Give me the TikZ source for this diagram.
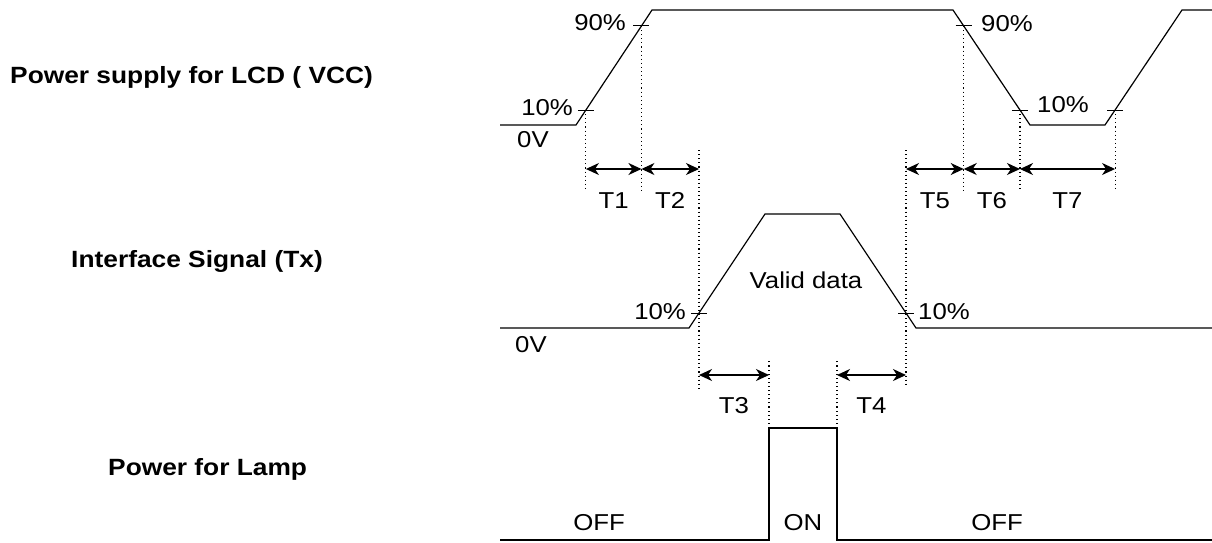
\documentclass[tikz,border=0pt]{standalone}
\usepackage{fontspec}
\setmainfont{Liberation Sans}[FakeStretch=1.12]
\usetikzlibrary{arrows.meta,calc}
\begin{document}
\begin{tikzpicture}[x=1pt,y=-1pt,
  wave/.style={line width=1.2pt, line join=miter},
  dots/.style={line width=1.1pt, dash pattern=on 1.1pt off 3pt},
  span/.style={line width=1.2pt, {Stealth[length=13pt,width=12pt,inset=4pt]}-{Stealth[length=13pt,width=12pt,inset=4pt]}},
  tick/.style={line width=1pt},
  lbl/.style={font=\fontsize{23}{27}\selectfont, inner sep=0pt},
  title/.style={font=\fontsize{23.5}{28}\selectfont\bfseries, inner sep=0pt}]
\useasboundingbox (0,0) rectangle (1212,542);

% reference rows
\coordinate (ra) at (0,169);
\coordinate (rb) at (0,375);
\coordinate (ta) at (0,208);
\coordinate (tb) at (0,413);

% ---------- VCC ----------
\coordinate (v0) at (500,125);
\coordinate (v1) at (576,125);
\coordinate (v2) at (652,10);
\coordinate (v3) at (953,10);
\coordinate (v4) at (1030,125);
\coordinate (v5) at (1105,125);
\coordinate (v6) at (1182,10);
\coordinate (v7) at (1212,10);
\draw[wave] (v0) -- (v1) -- (v2) -- (v3) -- (v4) -- (v5) -- (v6) -- (v7);
\coordinate (a10) at ($(v1)!0.1304!(v2)$);
\coordinate (a90) at ($(v1)!0.861!(v2)$);
\coordinate (b90) at ($(v4)!0.861!(v3)$);
\coordinate (b10) at ($(v4)!0.1304!(v3)$);
\coordinate (c10) at ($(v5)!0.1304!(v6)$);
\foreach \p in {a10,a90,b90,b10,c10}
  \draw[tick] ([xshift=-8pt]\p) -- ([xshift=8pt]\p);

% ---------- Tx ----------
\coordinate (t0) at (500,328);
\coordinate (t1) at (689,328);
\coordinate (t2) at (765,214);
\coordinate (t3) at (840,214);
\coordinate (t4) at (916,328);
\coordinate (t5) at (1212,328);
\draw[wave] (t0) -- (t1) -- (t2) -- (t3) -- (t4) -- (t5);
\coordinate (d10) at ($(t1)!0.1316!(t2)$);
\coordinate (e10) at ($(t4)!0.1316!(t3)$);
\foreach \p in {d10,e10}
  \draw[tick] ([xshift=-8pt]\p) -- ([xshift=8pt]\p);

% ---------- Lamp ----------
\coordinate (l0) at (500,540);
\coordinate (l1) at (769,540);
\coordinate (l2) at (769,428);
\coordinate (l3) at (837,428);
\coordinate (l4) at (837,540);
\coordinate (l5) at (1212,540);
\draw[wave] (l0) -- (l1) -- (l2) -- (l3) -- (l4) -- (l5);

% ---------- dotted guides ----------
\coordinate (g1) at (0,192);
\coordinate (g2) at (0,150);
\coordinate (g3) at (0,390);
\coordinate (g4) at (0,360);
\draw[dots] (a10) -- (a10 |- g1);
\draw[dots] (a90) -- (a90 |- g1);
\draw[dots] (b90) -- (b90 |- g1);
\draw[dots] (b10) -- (b10 |- g1);
\draw[dots] (c10) -- (c10 |- g1);
\draw[dots] (d10 |- g2) -- (d10 |- g3);
\draw[dots] (e10 |- g2) -- ([yshift=5pt]e10 |- g3);
\draw[dots] (l2) -- (l2 |- g4);
\draw[dots] (l3) -- (l3 |- g4);

% ---------- spans ----------
\draw[span] (a10 |- ra) -- (a90 |- ra);
\draw[span] (a90 |- ra) -- (d10 |- ra);
\draw[span] (e10 |- ra) -- (b90 |- ra);
\draw[span] (b90 |- ra) -- (b10 |- ra);
\draw[span] (b10 |- ra) -- (c10 |- ra);
\draw[span] (d10 |- rb) -- (l2 |- rb);
\draw[span] (l3 |- rb) -- (e10 |- rb);

\node[lbl, anchor=base] (nT1) at ($(a10 |- ta)!0.5!(a90 |- ta)$) {T1};
\node[lbl, anchor=base] (nT2) at ($(a90 |- ta)!0.5!(d10 |- ta)$) {T2};
\node[lbl, anchor=base] (nT5) at ($(e10 |- ta)!0.5!(b90 |- ta)$) {T5};
\node[lbl, anchor=base] (nT6) at ($(b90 |- ta)!0.5!(b10 |- ta)$) {T6};
\node[lbl, anchor=base] (nT7) at ($(b10 |- ta)!0.5!(c10 |- ta)$) {T7};
\node[lbl, anchor=base] (nT3) at ($(d10 |- tb)!0.5!(l2 |- tb)$) {T3};
\node[lbl, anchor=base] (nT4) at ($(l3 |- tb)!0.5!(e10 |- tb)$) {T4};

% ---------- level labels ----------
\node[lbl, anchor=base east] (p90a) at (626,30) {90\%};
\node[lbl, anchor=base east] (p10a) at (573,115) {10\%};
\node[lbl, anchor=base west] (z1) at (517,147) {0V};
\node[lbl, anchor=base west] (p90b) at (981,31) {90\%};
\node[lbl, anchor=base west] (p10b) at (1037,112) {10\%};
\node[lbl, anchor=base east] (p10c) at (686,319) {10\%};
\node[lbl, anchor=base west] (p10d) at (918,319) {10\%};
\node[lbl, anchor=base west] (z2) at (515,352) {0V};
\node[lbl, anchor=base] (valid) at (806,288) {Valid data};
\node[lbl, anchor=base] (off1) at (599,530) {OFF};
\node[lbl, anchor=base] (on) at ($(l2)!0.5!(l3) + (0,102)$) {ON};
\node[lbl, anchor=base] (off2) at (997,530) {OFF};

% ---------- titles ----------
\node[title, anchor=base west] (h1) at (10,83) {Power supply for LCD ( VCC)};
\node[title, anchor=base east] (h2) at (323,267) {Interface Signal (Tx)};
\node[title, anchor=base west] (h3) at (108,475) {Power for Lamp};
\end{tikzpicture}
\end{document}
